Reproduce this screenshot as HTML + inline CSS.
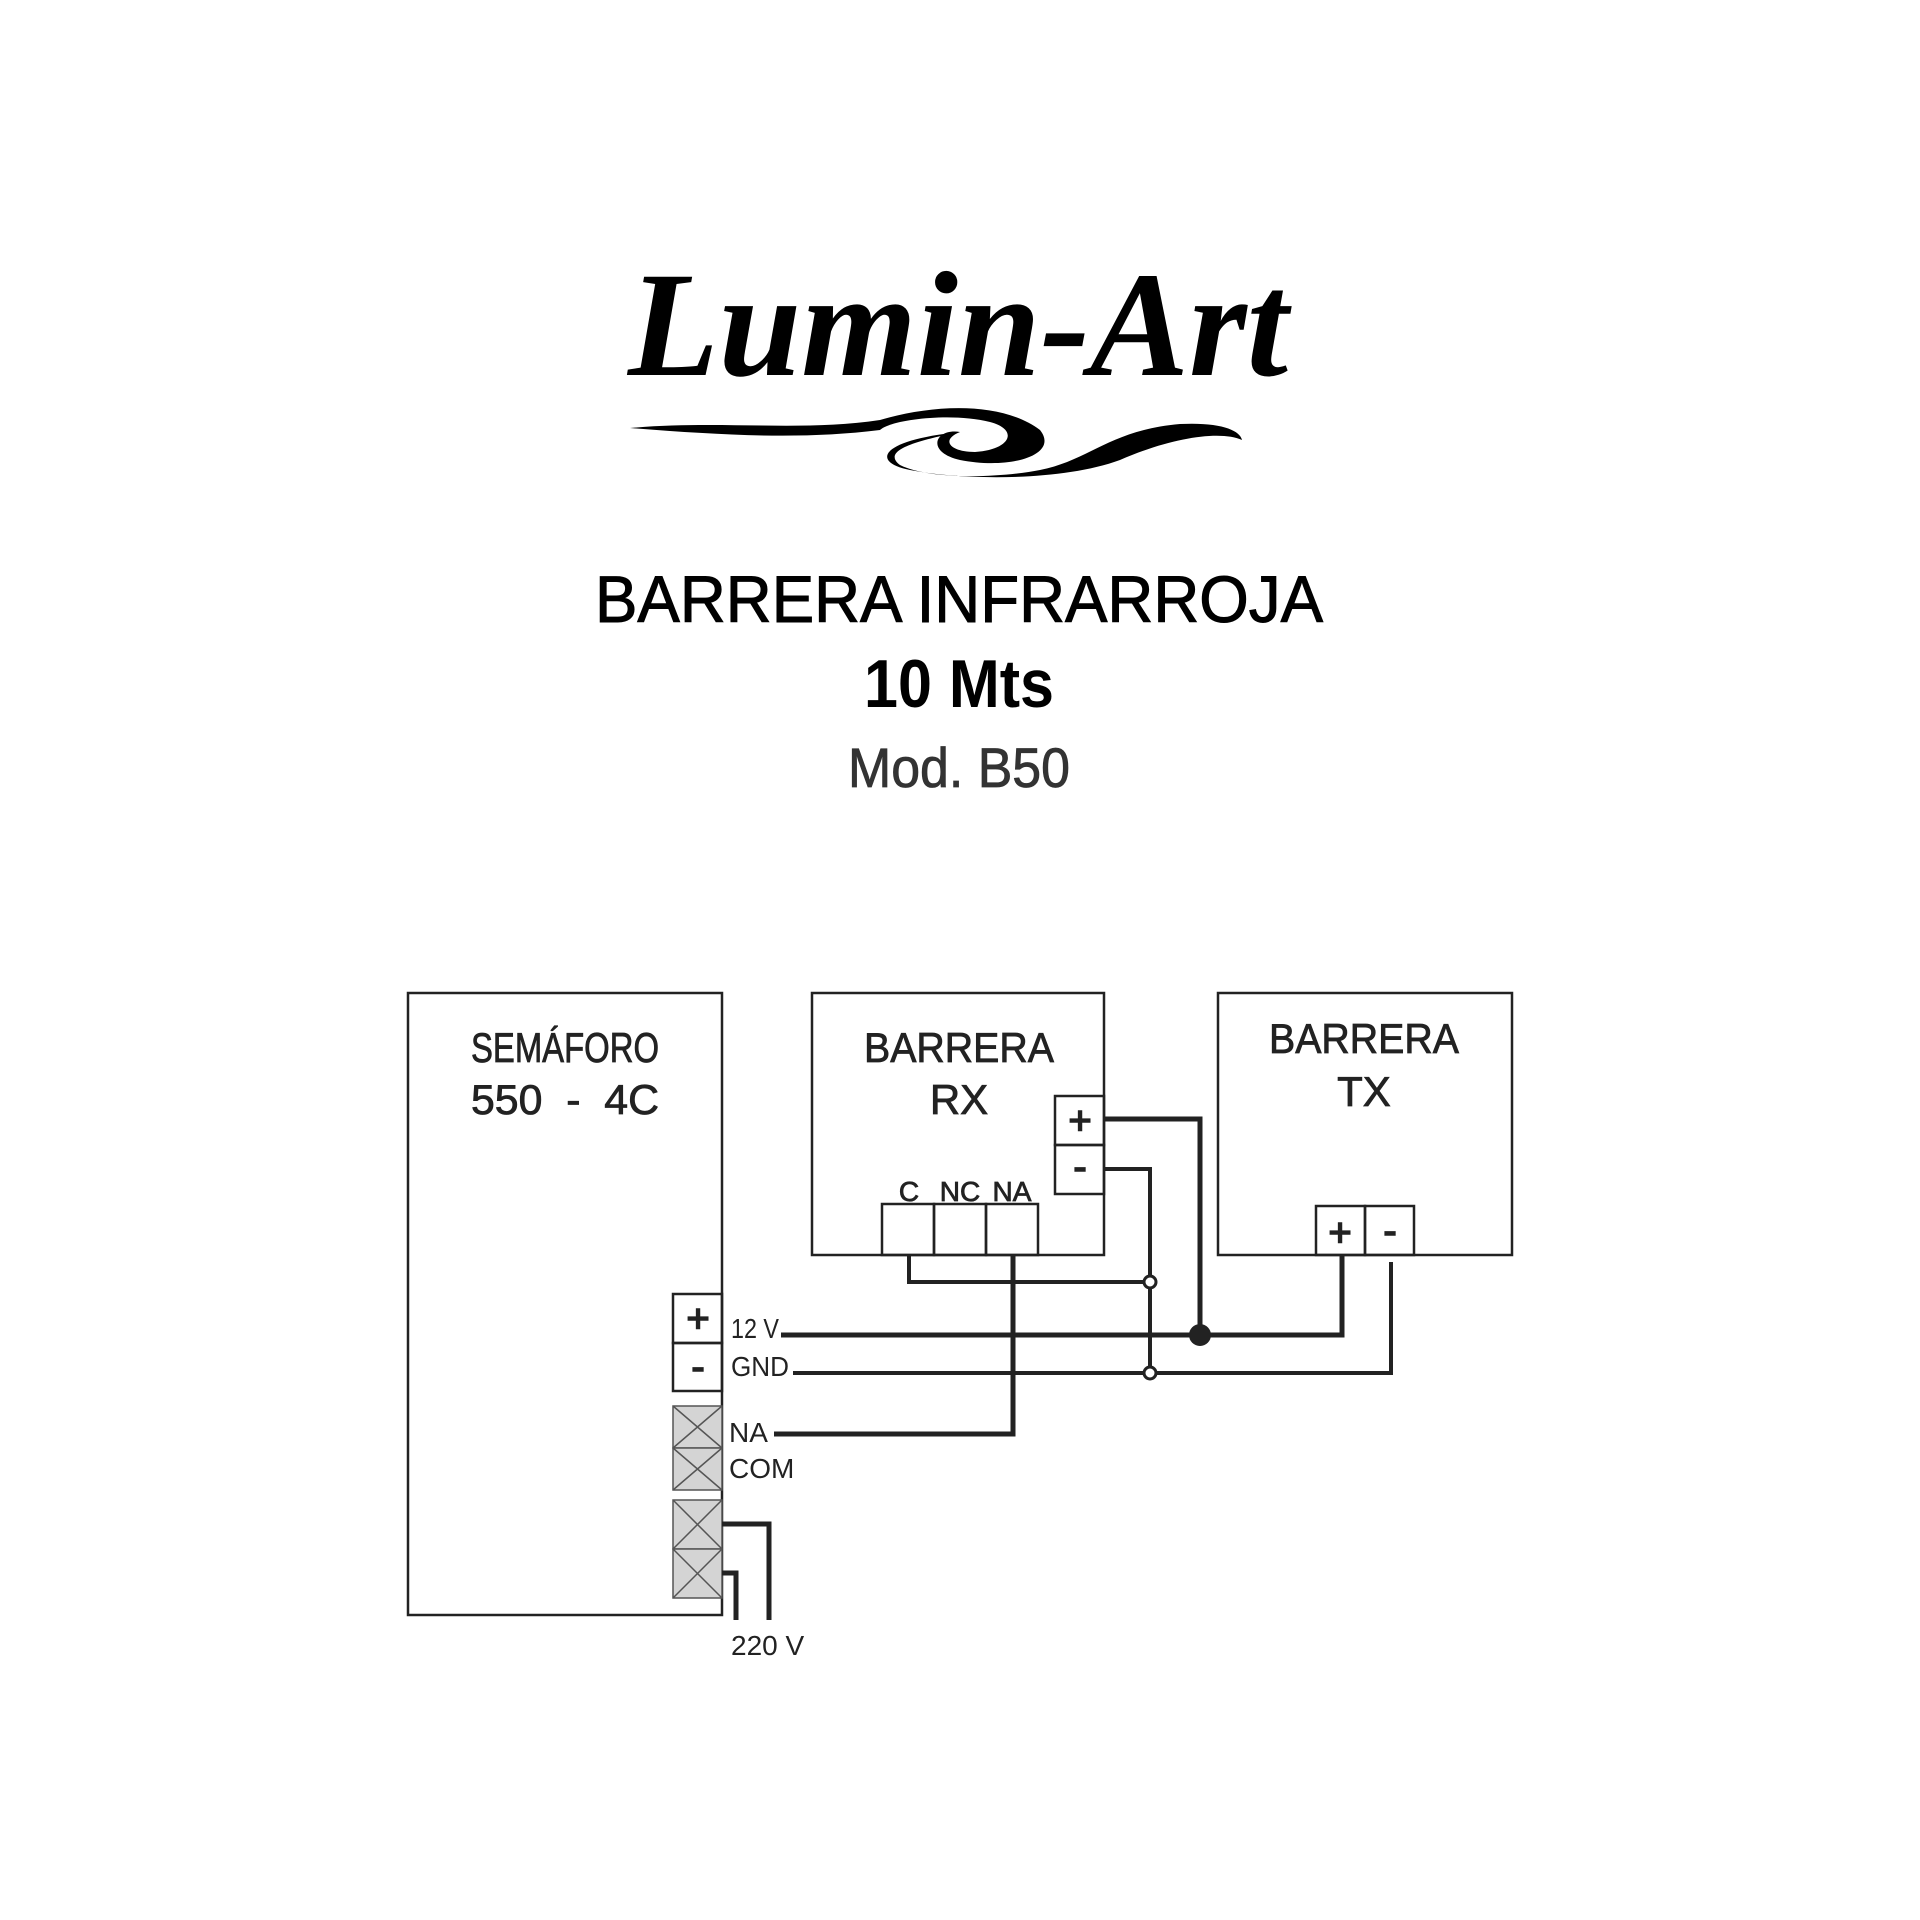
<!DOCTYPE html>
<html><head><meta charset="utf-8"><style>html,body{margin:0;padding:0;background:#fff}svg{display:block}</style></head>
<body>
<svg width="1920" height="1920" viewBox="0 0 1920 1920" xmlns="http://www.w3.org/2000/svg" font-family="'Liberation Sans Narrow','Liberation Sans',sans-serif">
<rect width="1920" height="1920" fill="#fff"/>
<!-- logo -->
<text x="958" y="375" text-anchor="middle" font-family="'Liberation Serif',serif" font-style="italic" font-weight="bold" font-size="150" textLength="660" lengthAdjust="spacingAndGlyphs" fill="#000">Lumin-Art</text>
<path d="M630 428 C720 420 800 432 880 420 C930 405 1000 400 1040 430 C1060 455 1010 470 960 460 C925 452 935 428 960 432 C940 440 950 452 975 452 C1010 450 1020 430 990 422 C950 412 890 420 880 430 C800 440 720 435 630 428 Z" fill="#000"/>
<path d="M960 432 C920 440 880 450 900 465 C930 480 1000 478 1040 470 C1090 460 1110 430 1180 424 C1220 422 1240 430 1242 440 C1220 430 1170 438 1120 460 C1060 482 960 480 910 470 C870 462 880 440 960 432 Z" fill="#000"/>
<g fill="#000" text-anchor="middle">
<text x="959" y="622" font-size="66" textLength="728" lengthAdjust="spacingAndGlyphs" stroke="#000" stroke-width="1">BARRERA INFRARROJA</text>
<text x="959" y="707" font-size="68" font-weight="bold" textLength="190" lengthAdjust="spacingAndGlyphs">10 Mts</text>
<text x="959" y="787" font-size="56" fill="#333" textLength="222" lengthAdjust="spacingAndGlyphs" stroke="#333" stroke-width="0.8">Mod. B50</text>
</g>
<g fill="none" stroke="#222" stroke-width="2.5">
<rect x="408" y="993" width="314" height="622"/>
<rect x="812" y="993" width="292" height="262"/>
<rect x="1218" y="993" width="294" height="262"/>
<rect x="1055" y="1096" width="49" height="49"/>
<rect x="1055" y="1145" width="49" height="49"/>
<rect x="882" y="1204" width="52" height="51"/>
<rect x="934" y="1204" width="52" height="51"/>
<rect x="986" y="1204" width="52" height="51"/>
<rect x="1316" y="1206" width="49" height="49"/>
<rect x="1365" y="1206" width="49" height="49"/>
<rect x="673" y="1294" width="49" height="49"/>
<rect x="673" y="1343" width="49" height="48"/>
</g>
<g stroke="#555" stroke-width="1.5" fill="#d4d4d4">
<rect x="673" y="1406" width="49" height="42"/><rect x="673" y="1448" width="49" height="42"/>
<rect x="673" y="1500" width="49" height="49"/><rect x="673" y="1549" width="49" height="49"/>
</g>
<g stroke="#555" stroke-width="1.5">
<path d="M673 1406 L722 1448 M722 1406 L673 1448 M673 1448 L722 1490 M722 1448 L673 1490 M673 1500 L722 1549 M722 1500 L673 1549 M673 1549 L722 1598 M722 1549 L673 1598"/>
</g>
<g fill="#222" text-anchor="middle" font-size="42" stroke="#222" stroke-width="0.8">
<text x="565" y="1062" textLength="188" lengthAdjust="spacingAndGlyphs">SEMÁFORO</text>
<text x="565" y="1114" textLength="188" lengthAdjust="spacingAndGlyphs" xml:space="preserve">550  -  4C</text>
<text x="959" y="1062" textLength="190" lengthAdjust="spacingAndGlyphs">BARRERA</text>
<text x="959" y="1114">RX</text>
<text x="1364" y="1053" textLength="190" lengthAdjust="spacingAndGlyphs">BARRERA</text>
<text x="1364" y="1106">TX</text>
<g font-size="28"><text x="909" y="1201">C</text><text x="960" y="1201">NC</text><text x="1012" y="1201">NA</text></g>
<g font-size="40" stroke-width="1.5"><text x="1080" y="1134">+</text><text x="1080" y="1180">-</text><text x="1340" y="1246">+</text><text x="1390" y="1244">-</text><text x="698" y="1332">+</text><text x="698" y="1380">-</text></g>
</g>
<g fill="#222" font-size="28">
<text x="731" y="1338" textLength="48" lengthAdjust="spacingAndGlyphs">12 V</text><text x="731" y="1376" textLength="58" lengthAdjust="spacingAndGlyphs">GND</text><text x="729" y="1442">NA</text><text x="729" y="1478">COM</text><text x="731" y="1655">220 V</text>
</g>
<g fill="none" stroke="#222" stroke-width="5">
<path d="M781 1335 H1342 V1255"/>
<path d="M1104 1119 H1200 V1335"/>
<path d="M722 1524 H769 V1620"/>
<path d="M722 1573 H736 V1620"/>
<path d="M1013 1255 V1434 H774"/>
</g>
<g fill="none" stroke="#222" stroke-width="4">
<path d="M793 1373 H1391 V1262"/>
<path d="M1104 1169 H1150 V1373"/>
<path d="M909 1255 V1282 H1150"/>
</g>
<circle cx="1200" cy="1335" r="11" fill="#222"/>
<circle cx="1150" cy="1282" r="6" fill="#fff" stroke="#222" stroke-width="3"/>
<circle cx="1150" cy="1373" r="6" fill="#fff" stroke="#222" stroke-width="3"/>
</svg>
</body></html>
